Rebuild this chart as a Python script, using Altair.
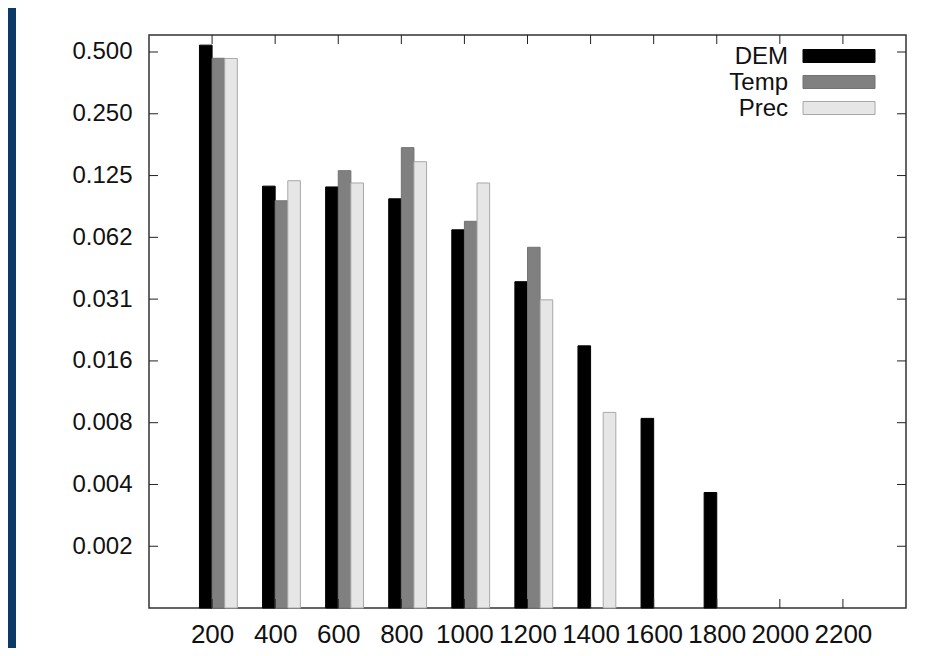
import altair as alt
import pandas as pd

# ---- data ----
x_values = [200, 400, 600, 800, 1000, 1200, 1400, 1600, 1800, 2000, 2200]
dem = [0.54, 0.111, 0.110, 0.0963, 0.068, 0.038, 0.0185, 0.0082, 0.00357, None, None]
temp = [0.466, 0.0942, 0.132, 0.171, 0.0748, 0.0559, None, None, None, None, None]
prec = [0.465, 0.118, 0.115, 0.146, 0.115, 0.031, 0.00877, None, None, None, None]

series_names = ["DEM", "Temp", "Prec"]
series_fill = ["#000000", "#808080", "#e6e6e6"]
series_stroke = ["#000000", "#737373", "#a8a8a8"]

y_tick_values = [0.5, 0.25, 0.125, 0.0625, 0.03125, 0.015625, 0.0078125, 0.00390625, 0.001953125]
y_tick_labels = ["0.500", "0.250", "0.125", "0.062", "0.031", "0.016", "0.008", "0.004", "0.002"]
x_tick_values = x_values
x_tick_labels = [str(v) for v in x_values]

# ---- layout (pixels) ----
W, H = 757, 573
PAD = {"left": 141, "top": 27, "right": 26, "bottom": 40}
FONT = "Liberation Sans"
BAR_W = 40  # data units per bar
TICK = 9


def label_expr(values, labels):
    expr = "''"
    for v, l in reversed(list(zip(values, labels))):
        expr = f"(datum.value == {v} ? '{l}' : {expr})"
    return expr


rows = []
for idx, (name, vals) in enumerate(zip(series_names, [dem, temp, prec])):
    for xv, v in zip(x_values, vals):
        if v is not None:
            rows.append({"x": xv, "series": name, "slot": idx, "value": v})
df = pd.DataFrame(rows)

xscale = alt.Scale(domain=[0, 2400], nice=False, zero=False)
yscale = alt.Scale(type="log", base=2, domain=[0.000977, 0.605], nice=False)

x_axis = alt.Axis(
    values=x_tick_values, labelExpr=label_expr(x_tick_values, x_tick_labels),
    ticks=False, tickSize=0, domain=False, grid=False, title=None,
    labelFont=FONT, labelFontSize=26, labelColor="#111", labelPadding=13,
    labelOverlap=False, labelFlush=False,
)
y_axis = alt.Axis(
    values=y_tick_values, labelExpr=label_expr(y_tick_values, y_tick_labels),
    ticks=False, tickSize=0, domain=False, grid=False, title=None,
    labelFont=FONT, labelFontSize=24, labelColor="#111", labelPadding=17,
    labelOverlap=False, labelFlush=False,
)

bars = alt.Chart(df).transform_calculate(
    x0=f"datum.x - {BAR_W} + datum.slot * {BAR_W}",
    x1=f"datum.x + datum.slot * {BAR_W}",
).mark_rect(strokeWidth=1).encode(
    x=alt.X("x0:Q", scale=xscale, axis=x_axis),
    x2="x1:Q",
    y=alt.Y("value:Q", scale=yscale, axis=y_axis),
    y2=alt.value(H),
    fill=alt.Fill("series:N", scale=alt.Scale(domain=series_names, range=series_fill), legend=None),
    stroke=alt.Stroke("series:N", scale=alt.Scale(domain=series_names, range=series_stroke), legend=None),
)

df_xt = pd.DataFrame({"t": x_tick_values})
df_yt = pd.DataFrame({"t": y_tick_values})
tick_color = "#222"

xt_bottom = alt.Chart(df_xt).mark_rule(color=tick_color, strokeWidth=1).encode(
    x=alt.X("t:Q", scale=xscale, axis=x_axis), y=alt.value(H), y2=alt.value(H - TICK))
xt_top = alt.Chart(df_xt).mark_rule(color=tick_color, strokeWidth=1).encode(
    x=alt.X("t:Q", scale=xscale, axis=x_axis), y=alt.value(0), y2=alt.value(TICK))
yt_left = alt.Chart(df_yt).mark_rule(color=tick_color, strokeWidth=1).encode(
    y=alt.Y("t:Q", scale=yscale, axis=y_axis), x=alt.value(0), x2=alt.value(TICK))
yt_right = alt.Chart(df_yt).mark_rule(color=tick_color, strokeWidth=1).encode(
    y=alt.Y("t:Q", scale=yscale, axis=y_axis), x=alt.value(W), x2=alt.value(W - TICK))

# blue band at the left edge of the slide
band = alt.Chart(pd.DataFrame({"a": [0]})).mark_rect(color="#0c3a66").encode(
    x=alt.value(-PAD["left"]), x2=alt.value(-PAD["left"] + 8),
    y=alt.value(-PAD["top"]), y2=alt.value(H + PAD["bottom"]))

# manual gnuplot-style legend (label left, swatch right)
legend_rows_y = [21, 47, 73]
legend_layers = []
for name, fillc, strokec, ry in zip(series_names, series_fill, series_stroke, legend_rows_y):
    d = pd.DataFrame({"series": [name]})
    legend_layers.append(
        alt.Chart(d).mark_text(align="right", baseline="middle", font=FONT, fontSize=24, color="#111").encode(
            text="series:N", x=alt.value(639), y=alt.value(ry + 1)))
    legend_layers.append(
        alt.Chart(d).mark_rect(fill=fillc, stroke=strokec, strokeWidth=1).encode(
            x=alt.value(654), x2=alt.value(726), y=alt.value(ry - 6.5), y2=alt.value(ry + 6.5)))

chart = alt.layer(bars, band, xt_bottom, xt_top, yt_left, yt_right, *legend_layers).properties(
    width=W, height=H,
    autosize=alt.AutoSizeParams(type="none"),
    padding=PAD,
    background="white",
).configure_view(stroke="#333", strokeWidth=1.5)

chart.save("out.html", embed_options={"renderer": "svg", "actions": False})
